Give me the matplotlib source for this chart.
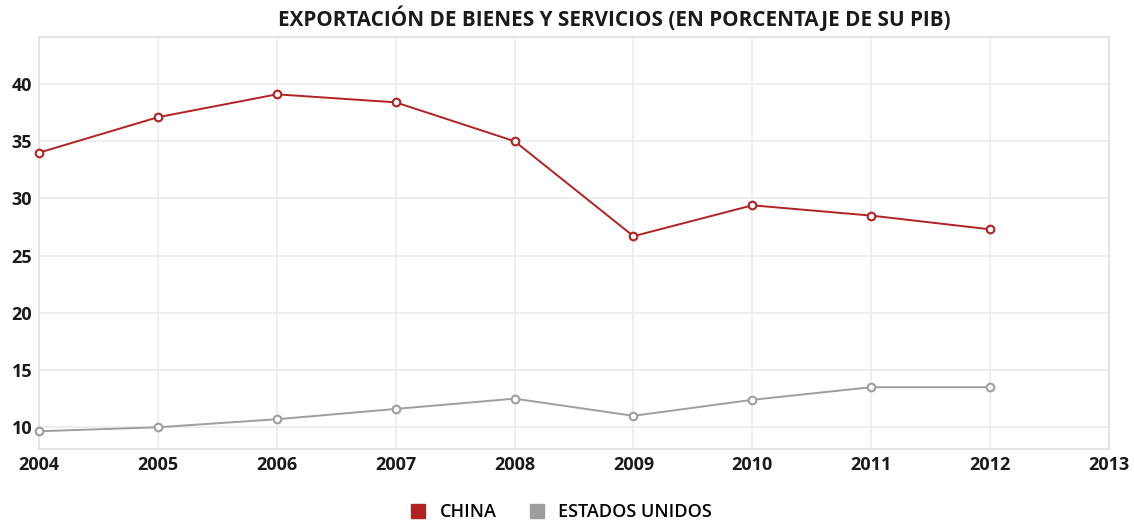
import matplotlib
matplotlib.use('Agg')
import matplotlib.pyplot as plt
from matplotlib.lines import Line2D

# Data
years = [2004, 2005, 2006, 2007, 2008, 2009, 2010, 2011, 2012]
china = [34.0, 37.1, 39.1, 38.4, 35.0, 26.7, 29.4, 28.5, 27.3]
usa = [9.65, 10.0, 10.7, 11.6, 12.5, 11.0, 12.4, 13.5, 13.5]
series_names = ["CHINA", "ESTADOS UNIDOS"]
series_colors = ["#b22222", "#9e9e9e"]
x_ticks = list(range(2004, 2014))
y_ticks = [10, 15, 20, 25, 30, 35, 40]

plt.rcParams['font.family'] = ['Open Sans', 'DejaVu Sans']

fig = plt.figure(figsize=(11.34, 5.23), dpi=100)
ax = fig.add_axes([0.0344, 0.1415, 0.9436, 0.7875])

for vals, col in zip([china, usa], series_colors):
    ax.plot(years, vals, color=col, lw=1.4, marker='o', ms=5.5,
            mfc='white', mec=col, mew=1.5, zorder=3, clip_on=False)

ax.set_xlim(2004, 2013)
ax.set_ylim(8.1, 44.1)
ax.set_xticks(x_ticks)
ax.set_yticks(y_ticks)
ax.grid(True, color='#ebebeb', lw=1.2)
ax.set_axisbelow(True)
for s in ax.spines.values():
    s.set_color('#e0e0e0')
    s.set_linewidth(1.2)
ax.tick_params(length=0, labelsize=13, colors='#1a1a1a', pad=5)
for lab in ax.get_xticklabels() + ax.get_yticklabels():
    lab.set_fontweight('bold')

fig.text(0.5414, 0.966, "EXPORTACIÓN DE BIENES Y SERVICIOS (EN PORCENTAJE DE SU PIB)",
         ha='center', va='center', fontsize=14.9, fontweight='bold', color='#1a1a1a')

handles = [Line2D([], [], ls='none', marker='s', ms=10.5, mfc=c, mec=c) for c in series_colors]
fig.legend(handles, series_names, loc='center', bbox_to_anchor=(0.4905, 0.021),
           ncol=2, frameon=False, handletextpad=0.2, columnspacing=1.2,
           borderaxespad=0, prop={'weight': 'semibold', 'size': 13})

fig.savefig("out.png", dpi=100)
